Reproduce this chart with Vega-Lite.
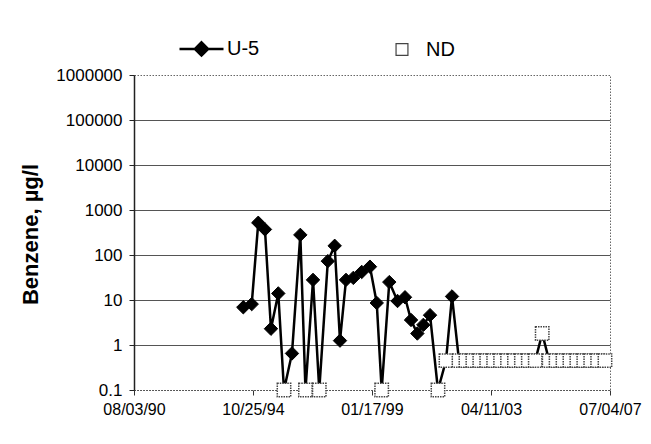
{
  "$schema": "https://vega.github.io/schema/vega-lite/v6.json",
  "width": 476,
  "height": 315,
  "autosize": {"type": "none"},
  "padding": {"left": 134, "top": 75, "right": 41, "bottom": 54},
  "background": "white",
  "config": {
    "font": "Liberation Sans",
    "view": {"stroke": "#666", "strokeDash": [1.5, 1.5], "strokeWidth": 1},
    "legend": {"title": null, "orient": "none", "legendX": 44, "legendY": -50, "direction": "horizontal", "labelFontSize": 20, "labelColor": "black", "labelOffset": 2, "columnPadding": 118, "symbolOpacity": 1, "padding": 0}
  },
  "data": {
    "values": [
      {"date": "1994-06-22", "value": 6.9, "series": "U-5"},
      {"date": "1994-10-09", "value": 8.1, "series": "U-5"},
      {"date": "1995-01-02", "value": 520, "series": "U-5"},
      {"date": "1995-03-30", "value": 370, "series": "U-5"},
      {"date": "1995-06-16", "value": 2.3, "series": "U-5"},
      {"date": "1995-09-19", "value": 14, "series": "U-5"},
      {"date": "1995-12-02", "value": 0.1, "series": "ND"},
      {"date": "1996-03-15", "value": 0.65, "series": "U-5"},
      {"date": "1996-07-01", "value": 280, "series": "U-5"},
      {"date": "1996-09-06", "value": 0.1, "series": "ND"},
      {"date": "1996-12-13", "value": 28, "series": "U-5"},
      {"date": "1997-03-04", "value": 0.1, "series": "ND"},
      {"date": "1997-06-23", "value": 73, "series": "U-5"},
      {"date": "1997-09-20", "value": 160, "series": "U-5"},
      {"date": "1997-11-28", "value": 1.25, "series": "U-5"},
      {"date": "1998-02-14", "value": 28, "series": "U-5"},
      {"date": "1998-05-20", "value": 31, "series": "U-5"},
      {"date": "1998-09-06", "value": 42, "series": "U-5"},
      {"date": "1998-12-22", "value": 55, "series": "U-5"},
      {"date": "1999-03-20", "value": 8.6, "series": "U-5"},
      {"date": "1999-05-23", "value": 0.1, "series": "ND"},
      {"date": "1999-08-30", "value": 25, "series": "U-5"},
      {"date": "1999-12-15", "value": 9.5, "series": "U-5"},
      {"date": "2000-03-21", "value": 11.5, "series": "U-5"},
      {"date": "2000-06-07", "value": 3.6, "series": "U-5"},
      {"date": "2000-08-28", "value": 1.8, "series": "U-5"},
      {"date": "2000-11-14", "value": 2.8, "series": "U-5"},
      {"date": "2001-02-09", "value": 4.6, "series": "U-5"},
      {"date": "2001-05-23", "value": 0.1, "series": "ND"},
      {"date": "2001-09-04", "value": 0.45, "series": "ND"},
      {"date": "2001-11-21", "value": 12, "series": "U-5"},
      {"date": "2002-02-20", "value": 0.45, "series": "ND"},
      {"date": "2002-05-21", "value": 0.45, "series": "ND"},
      {"date": "2002-08-19", "value": 0.45, "series": "ND"},
      {"date": "2002-11-17", "value": 0.45, "series": "ND"},
      {"date": "2003-02-15", "value": 0.45, "series": "ND"},
      {"date": "2003-05-16", "value": 0.45, "series": "ND"},
      {"date": "2003-08-14", "value": 0.45, "series": "ND"},
      {"date": "2003-11-12", "value": 0.45, "series": "ND"},
      {"date": "2004-02-10", "value": 0.45, "series": "ND"},
      {"date": "2004-05-10", "value": 0.45, "series": "ND"},
      {"date": "2004-08-08", "value": 0.45, "series": "ND"},
      {"date": "2004-11-06", "value": 0.45, "series": "ND"},
      {"date": "2005-02-04", "value": 1.8, "series": "ND"},
      {"date": "2005-05-05", "value": 0.45, "series": "ND"},
      {"date": "2005-08-03", "value": 0.45, "series": "ND"},
      {"date": "2005-11-01", "value": 0.45, "series": "ND"},
      {"date": "2006-01-30", "value": 0.45, "series": "ND"},
      {"date": "2006-04-30", "value": 0.45, "series": "ND"},
      {"date": "2006-07-29", "value": 0.45, "series": "ND"},
      {"date": "2006-10-27", "value": 0.45, "series": "ND"},
      {"date": "2007-01-25", "value": 0.45, "series": "ND"},
      {"date": "2007-04-30", "value": 0.45, "series": "ND"}
    ]
  },
  "encoding": {
    "x": {
      "field": "date",
      "type": "temporal",
      "scale": {
        "type": "utc",
        "domain": [
          {"year": 1990, "month": 8, "date": 3, "utc": true},
          {"year": 2007, "month": 7, "date": 4, "utc": true}
        ]
      },
      "axis": {
        "title": null,
        "values": [
          {"year": 1990, "month": 8, "date": 3, "utc": true},
          {"year": 1994, "month": 10, "date": 25, "utc": true},
          {"year": 1999, "month": 1, "date": 17, "utc": true},
          {"year": 2003, "month": 4, "date": 11, "utc": true},
          {"year": 2007, "month": 7, "date": 4, "utc": true}
        ],
        "labelExpr": "utcFormat(datum.value, '%m/%d/%y')",
        "labelFontSize": 16,
        "labelColor": "black",
        "labelPadding": 6,
        "labelFlush": false,
        "labelOverlap": false,
        "tickSize": 5,
        "tickColor": "#333",
        "domainColor": "#555",
        "domainDash": [1.5, 1.5],
        "grid": false
      }
    },
    "y": {
      "field": "value",
      "type": "quantitative",
      "scale": {"type": "log", "domain": [0.1, 1000000], "nice": false},
      "axis": {
        "title": "Benzene, µg/l",
        "titleFontSize": 22,
        "titleFontWeight": "bold",
        "titleColor": "black",
        "titleAngle": 270,
        "titleAlign": "center",
        "titleBaseline": "middle",
        "titleX": -104,
        "titleY": 159,
        "values": [0.1, 1, 10, 100, 1000, 10000, 100000, 1000000],
        "labelExpr": "datum.value < 1 ? '0.1' : format(datum.value, 'd')",
        "labelFontSize": 17,
        "labelColor": "black",
        "labelPadding": 7,
        "labelFlush": false,
        "labelOverlap": false,
        "tickSize": 5,
        "tickColor": "#222",
        "domainColor": "#222",
        "domainWidth": 1.5,
        "grid": true,
        "gridColor": "#555",
        "gridWidth": 1.2,
        "gridOpacity": {"condition": {"test": "datum.value < 0.5 || datum.value > 500000", "value": 0}, "value": 1}
      }
    }
  },
  "layer": [
    {
      "mark": {"type": "line", "color": "black", "strokeWidth": 2.5}
    },
    {
      "transform": [{"filter": "datum.series === 'U-5'"}],
      "mark": {"type": "point", "shape": "diamond", "filled": true, "fill": "black", "stroke": "black", "strokeWidth": 1, "size": 180, "opacity": 1}
    },
    {
      "transform": [{"filter": "datum.series === 'ND'"}],
      "mark": {"type": "point", "shape": "square", "filled": true, "fill": "white", "stroke": "#444", "strokeDash": [1.5, 1], "strokeWidth": 1.5, "size": 180, "opacity": 1}
    },
    {
      "mark": {"type": "point", "opacity": 0, "filled": true},
      "encoding": {
        "shape": {
          "field": "series",
          "type": "nominal",
          "scale": {"domain": ["U-5", "ND"], "range": ["M-1,0L1,0M0,-0.3L0.3,0L0,0.3L-0.3,0Z", "M-0.225,-0.27L0.315,-0.27L0.315,0.27L-0.225,0.27Z"]}
        },
        "fill": {
          "field": "series",
          "type": "nominal",
          "scale": {"domain": ["U-5", "ND"], "range": ["black", "white"]}
        },
        "stroke": {
          "field": "series",
          "type": "nominal",
          "scale": {"domain": ["U-5", "ND"], "range": ["black", "#444"]}
        },
        "size": {
          "field": "series",
          "type": "nominal",
          "scale": {"domain": ["U-5", "ND"], "range": [1936, 1936]}
        },
        "strokeWidth": {
          "field": "series",
          "type": "nominal",
          "scale": {"domain": ["U-5", "ND"], "range": [2.5, 1.2]}
        }
      }
    }
  ]
}
